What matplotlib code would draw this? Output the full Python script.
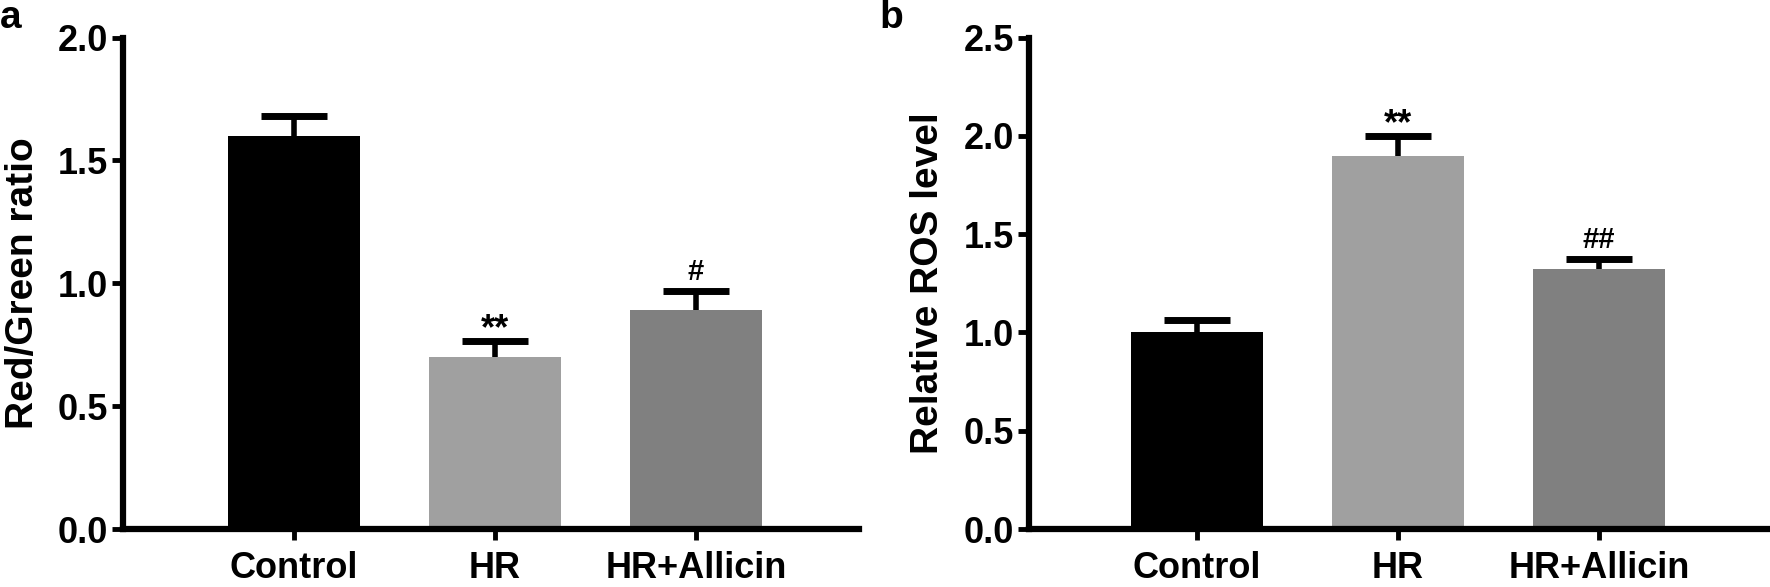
import matplotlib.pyplot as plt

groups = ["Control", "HR", "HR+Allicin"]
colors = ["#000000", "#a0a0a0", "#808080"]

ratio_vals = [1.60, 0.70, 0.89]
ratio_err = [0.08, 0.065, 0.08]
ratio_marks = ["", "**", "#"]

ros_vals = [1.00, 1.90, 1.325]
ros_err = [0.065, 0.10, 0.05]
ros_marks = ["", "**", "##"]

FONT = "Liberation Sans"

fig = plt.figure(figsize=(17.7, 5.87), dpi=100)
ax1 = fig.add_axes([0.0695, 0.0988, 0.4158, 0.8372])
ax2 = fig.add_axes([0.5814, 0.0988, 0.4186, 0.8372])


def draw(ax, vals, errs, marks, ymax, ylabel, xlim):
    x = list(range(len(groups)))
    tops = [v + e for v, e in zip(vals, errs)]
    ax.bar(x, vals, width=0.66, color=colors, zorder=2)
    # upper-only error bars, thick caps like GraphPad
    ax.vlines(x, vals, tops, colors="black", lw=4, zorder=3)
    ax.hlines(tops, [i - 0.165 for i in x], [i + 0.165 for i in x], colors="black", lw=5, zorder=3)
    for i in x:
        if marks[i] == "**":
            ax.annotate(marks[i], (i, tops[i]), xytext=(0, 1), textcoords="offset points",
                        ha="center", va="baseline", fontsize=26, fontweight="bold", family=FONT)
        elif marks[i]:
            ax.annotate(marks[i], (i, tops[i]), xytext=(0, 7.5), textcoords="offset points",
                        ha="center", va="baseline", fontsize=21, fontweight="bold", family=FONT)
    ax.set_xlim(*xlim)
    ax.set_ylim(0, ymax)
    n = int(round(ymax / 0.5)) + 1
    ax.set_yticks([k * 0.5 for k in range(n)])
    ax.set_yticklabels([f"{k * 0.5:.1f}" for k in range(n)])
    ax.set_xticks(x)
    ax.set_xticklabels(groups)
    for s in ["top", "right"]:
        ax.spines[s].set_visible(False)
    for s in ["left", "bottom"]:
        ax.spines[s].set_linewidth(4.5)
    ax.tick_params(axis="both", width=3.5, length=8, direction="out", pad=3)
    ax.tick_params(axis="x", pad=8)
    for lab in ax.get_xticklabels() + ax.get_yticklabels():
        lab.set_fontsize(26)
        lab.set_fontweight("bold")
        lab.set_family(FONT)
    ax.set_ylabel(ylabel, fontsize=28, fontweight="bold", family=FONT)


draw(ax1, ratio_vals, ratio_err, ratio_marks, 2.0, "Red/Green ratio", (-0.85, 2.81))
draw(ax2, ros_vals, ros_err, ros_marks, 2.5, "Relative ROS level", (-0.835, 2.85))
ax1.yaxis.set_label_coords(-0.112, 0.5)
ax2.yaxis.set_label_coords(-0.112, 0.5)

fig.text(0.0, 1.0, "a", fontsize=28, fontweight="bold", family=FONT, ha="left", va="top")
fig.text(0.497, 1.0, "b", fontsize=28, fontweight="bold", family=FONT, ha="left", va="top")

fig.savefig("out.png", dpi=100)
